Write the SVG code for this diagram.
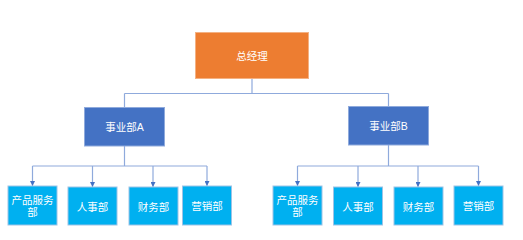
<svg xmlns="http://www.w3.org/2000/svg" width="523" height="240" viewBox="0 0 523 240">
<defs>
<style>
.conn{fill:none;stroke:#8FAADC;stroke-width:1.2}
.top{fill:#ED7D31;stroke:#F4B183;stroke-width:1}
.mid{fill:#4472C4;stroke:#8FAADC;stroke-width:1}
.leaf{fill:#00B0F0;stroke:#9DC3E6;stroke-width:1}
text{font-family:"Liberation Sans","Noto Sans CJK SC",sans-serif;font-size:10.5px;fill:#FFFFFF;text-anchor:middle;dominant-baseline:central}
</style>
<marker id="arr" viewBox="0 0 6 6" refX="6" refY="3" markerWidth="5" markerHeight="5" markerUnits="userSpaceOnUse" orient="auto">
<path d="M0,0 L6,3 L0,6 Z" fill="#4472C4"/>
</marker>
</defs>
<g id="connectors">
<path class="conn" d="M252,79 V93.5 M124.5,93.5 H388.5 M124.5,93.5 V107 M388.5,93.5 V106"/>
<path class="conn" d="M124.5,146 V166 M32.5,166 H207"/>
<path class="conn" marker-end="url(#arr)" d="M32.5,166 V186"/>
<path class="conn" marker-end="url(#arr)" d="M92.5,166 V187"/>
<path class="conn" marker-end="url(#arr)" d="M153,166 V187"/>
<path class="conn" marker-end="url(#arr)" d="M207,166 V186"/>
<path class="conn" d="M388.5,145 V166 M297.5,166 H478.5"/>
<path class="conn" marker-end="url(#arr)" d="M297.5,166 V186"/>
<path class="conn" marker-end="url(#arr)" d="M358,166 V187"/>
<path class="conn" marker-end="url(#arr)" d="M418,166 V187"/>
<path class="conn" marker-end="url(#arr)" d="M478.5,166 V186"/>
</g>
<g id="ceo"><rect class="top" x="195.5" y="32.5" width="113" height="46"/><text x="252" y="56">总经理</text></g>
<g id="divA"><rect class="mid" x="84.5" y="107.5" width="80" height="38.5"/><text x="124.5" y="127">事业部A</text></g>
<g id="divB"><rect class="mid" x="348.5" y="106.5" width="80" height="38.5"/><text x="388.5" y="126">事业部B</text></g>
<g id="a1"><rect class="leaf" x="8" y="186" width="49" height="39"/><text x="32.5" y="199.5">产品服务</text><text x="32.5" y="212">部</text></g>
<g id="a2"><rect class="leaf" x="68" y="187" width="49" height="38"/><text x="92.5" y="206.5">人事部</text></g>
<g id="a3"><rect class="leaf" x="129" y="187" width="49" height="38"/><text x="153.5" y="206.5">财务部</text></g>
<g id="a4"><rect class="leaf" x="182.5" y="186" width="49" height="39"/><text x="207" y="206">营销部</text></g>
<g id="b1"><rect class="leaf" x="273" y="186" width="49" height="39"/><text x="297.5" y="199.5">产品服务</text><text x="297.5" y="212">部</text></g>
<g id="b2"><rect class="leaf" x="333.5" y="187" width="49" height="38"/><text x="358" y="206.5">人事部</text></g>
<g id="b3"><rect class="leaf" x="394" y="187" width="49" height="38"/><text x="418.5" y="206.5">财务部</text></g>
<g id="b4"><rect class="leaf" x="454" y="186" width="49" height="39"/><text x="478.5" y="206">营销部</text></g>
</svg>
